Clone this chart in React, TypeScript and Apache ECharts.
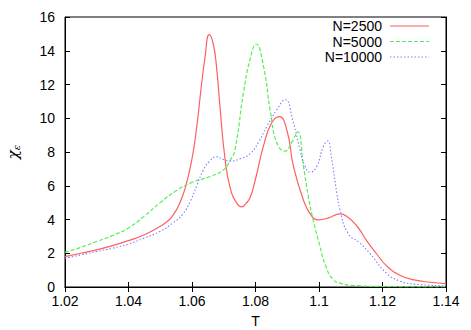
import React, { useEffect, useRef } from "react";
import * as echarts from "echarts";

const seriesNames = ["N=2500", "N=5000", "N=10000"];

const tRed = [1.02, 1.025, 1.03, 1.035, 1.04, 1.045, 1.05, 1.052, 1.054, 1.056, 1.058, 1.06, 1.0615, 1.063, 1.0641, 1.0654, 1.0667, 1.0678, 1.0688, 1.0704, 1.072, 1.074, 1.0757, 1.077, 1.0783, 1.08, 1.0825, 1.085, 1.0875, 1.09, 1.0919, 1.095, 1.0977, 1.1, 1.103, 1.1066, 1.109, 1.112, 1.115, 1.118, 1.1213, 1.1255, 1.13, 1.135, 1.14];
const yRed = [1.8, 2.0, 2.2, 2.45, 2.75, 3.1, 3.6, 3.85, 4.25, 4.9, 5.95, 7.6, 9.5, 12.0, 13.6, 14.95, 14.4, 12.9, 10.7, 7.6, 5.9, 5.0, 4.75, 4.95, 5.3, 6.4, 8.35, 9.7, 10.1, 9.2, 7.2, 5.2, 4.2, 3.98, 4.1, 4.33, 4.15, 3.6, 2.75, 2.0, 1.25, 0.7, 0.42, 0.28, 0.2];

const tGreen = [1.02, 1.025, 1.03, 1.035, 1.04, 1.045, 1.05, 1.055, 1.06, 1.0657, 1.07, 1.072, 1.0735, 1.0762, 1.0783, 1.0802, 1.0825, 1.0846, 1.0867, 1.0893, 1.0915, 1.0933, 1.0951, 1.0966, 1.098, 1.1003, 1.102, 1.1044, 1.107, 1.11, 1.12, 1.13, 1.14];
const yGreen = [2.05, 2.35, 2.7, 3.05, 3.5, 4.2, 5.0, 5.7, 6.2, 6.55, 6.95, 7.5, 8.1, 11.5, 13.5, 14.4, 13.1, 10.5, 8.55, 8.05, 8.6, 9.2, 7.16, 5.4, 4.1, 2.4, 1.3, 0.45, 0.2, 0.1, 0.03, 0.01, 0.01];

const tBlue = [1.02, 1.025, 1.03, 1.035, 1.04, 1.045, 1.05, 1.054, 1.057, 1.0595, 1.0615, 1.0635, 1.0655, 1.0676, 1.07, 1.072, 1.0752, 1.0783, 1.081, 1.0835, 1.0867, 1.0893, 1.0919, 1.094, 1.0956, 1.0972, 1.0993, 1.1014, 1.1027, 1.104, 1.1056, 1.1066, 1.1091, 1.1129, 1.116, 1.1213, 1.1255, 1.13, 1.14];
const yBlue = [1.7, 1.9, 2.1, 2.3, 2.55, 2.9, 3.3, 3.8, 4.3, 5.1, 6.0, 6.9, 7.45, 7.72, 7.55, 7.46, 7.6, 7.9, 8.6, 9.5, 10.5, 11.1, 9.74, 8.15, 7.16, 6.8, 7.16, 8.35, 8.65, 7.56, 5.58, 4.58, 3.2, 2.6, 2.0, 0.81, 0.35, 0.17, 0.07];

const xTicks = [1.02, 1.04, 1.06, 1.08, 1.1, 1.12, 1.14];
const yTicks = [0, 2, 4, 6, 8, 10, 12, 14, 16];

const colors = ["#ff5f5f", "#55ee55", "#7d7dff"];
const dashes: any[] = ["solid", [4, 2], [1.5, 2]];

const FONT = "Liberation Sans, Arial, sans-serif";

export default function App() {
  const ref = useRef<HTMLDivElement>(null);
  useEffect(() => {
    if (!ref.current) return;
    const chart = echarts.init(ref.current, null, { renderer: "svg" });
    const pairs = [
      tRed.map((t, i) => [t, yRed[i]]),
      tGreen.map((t, i) => [t, yGreen[i]]),
      tBlue.map((t, i) => [t, yBlue[i]]),
    ];
    const xMin = xTicks[0];
    const xMax = xTicks[xTicks.length - 1];
    const yMin = yTicks[0];
    const yMax = yTicks[yTicks.length - 1];
    const axisCommon = {
      axisLine: { show: true, lineStyle: { color: "#000", width: 1 } },
      axisTick: { show: true, inside: true, length: 5, lineStyle: { color: "#000" } },
      splitLine: { show: false },
    };
    const legendGraphics: any[] = [];
    seriesNames.forEach((n, i) => {
      const y = 26 + i * 15.5;
      legendGraphics.push({
        type: "text",
        x: 382,
        y,
        style: { text: n, fill: "#000", font: `14px ${FONT}`, textAlign: "right", textVerticalAlign: "middle" },
      });
      legendGraphics.push({
        type: "line",
        shape: { x1: 390, y1: y, x2: 429, y2: y },
        style: { stroke: colors[i], lineWidth: i === 2 ? 1 : 1.2, lineDash: dashes[i] === "solid" ? null : dashes[i] },
      });
    });
    chart.setOption({
      animation: false,
      backgroundColor: "#fff",
      grid: {
        left: 65,
        right: 25,
        top: 17,
        bottom: 43,
        show: true,
        borderColor: "#000",
        borderWidth: 1,
        containLabel: false,
        outerBoundsMode: "none",
      },
      xAxis: [
        {
          type: "value",
          min: xMin,
          max: xMax,
          interval: 0.02,
          ...axisCommon,
          axisLabel: {
            color: "#000",
            fontSize: 14,
            fontFamily: FONT,
            margin: 7,
            formatter: (v: number) => String(Math.round(v * 100) / 100),
          },
          name: "T",
          nameLocation: "middle",
          nameGap: 27,
          nameTextStyle: { color: "#000", fontSize: 14, fontFamily: FONT },
        },
        {
          type: "value",
          position: "top",
          min: xMin,
          max: xMax,
          interval: 0.02,
          ...axisCommon,
          axisLabel: { show: false },
        },
      ],
      yAxis: [
        {
          type: "value",
          min: yMin,
          max: yMax,
          interval: 2,
          ...axisCommon,
          axisLabel: { color: "#000", fontSize: 14, fontFamily: FONT, margin: 10 },
          name: "{c|χ}{e|ε}",
          nameLocation: "middle",
          nameGap: 44,
          nameRotate: 90,
          nameTextStyle: {
            color: "#000",
            rich: {
              c: { fontSize: 15, fontFamily: "DejaVu Serif", fontStyle: "italic", color: "#000" },
              e: { fontSize: 10, fontFamily: "DejaVu Serif", fontStyle: "italic", color: "#000", padding: [6, 0, 0, 0] },
            },
          },
        },
        {
          type: "value",
          position: "right",
          min: yMin,
          max: yMax,
          interval: 2,
          ...axisCommon,
          axisLabel: { show: false },
        },
      ],
      series: pairs.map((d, i) => ({
        name: seriesNames[i],
        type: "line",
        data: d,
        showSymbol: false,
        smooth: 0.5,
        lineStyle: { color: colors[i], width: i === 2 ? 1.1 : 1.2, type: dashes[i] },
        itemStyle: { color: colors[i] },
      })),
      graphic: legendGraphics,
    });
    return () => chart.dispose();
  }, []);
  return <div ref={ref} style={{ width: 471, height: 330, position: "absolute", left: 0, top: 0 }} />;
}
